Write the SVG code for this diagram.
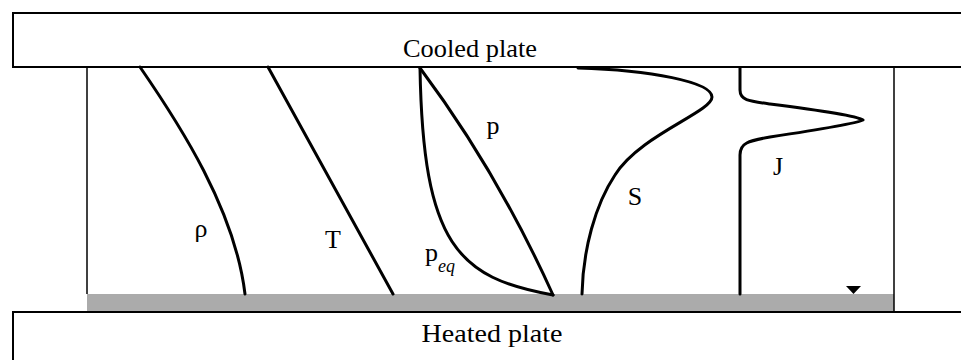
<svg xmlns="http://www.w3.org/2000/svg" width="961" height="360" viewBox="0 0 961 360">
<style>
.plate{fill:#fff;stroke:#000;stroke-width:2}
.wall{fill:none;stroke:#000;stroke-width:1.5}
.curve{fill:none;stroke:#000;stroke-width:3;stroke-linecap:round;stroke-linejoin:round}
.lbl{font-family:"Liberation Serif","Times New Roman",serif;font-size:26px;fill:#000}
</style>
<rect width="961" height="360" fill="#fff"/>
<g id="cooled-plate">
<path class="plate" d="M965,13 L13,13 L13,67 L965,67"/>
<text class="lbl" x="470" y="57" text-anchor="middle" textLength="134" lengthAdjust="spacingAndGlyphs">Cooled plate</text>
</g>
<g id="cell">
<rect x="87" y="294" width="807" height="17" fill="#ababab"/>
<line class="wall" x1="87" y1="67" x2="87" y2="294"/>
<line class="wall" x1="894" y1="67" x2="894" y2="311"/>
<polygon points="846,286 861,286 853.5,294" fill="#000"/>
</g>
<g id="heated-plate">
<path class="plate" d="M965,312 L13,312 L13,365"/>
<text class="lbl" x="492" y="342" text-anchor="middle" textLength="141" lengthAdjust="spacingAndGlyphs">Heated plate</text>
</g>
<g id="connectors">
<path id="rho" class="curve" d="M140,67 C180,125 235,210 245,294"/>
<path id="T" class="curve" d="M268,67 L393,294"/>
<path id="p" class="curve" d="M420,68 Q497,171 553,295"/>
<path id="peq" class="curve" d="M420,68 C423,245 458,278 553,295"/>
<path id="S" class="curve" d="M578,68 C650,70 712,82 712,97 C712,112 640,135 615,175 C595,205 583,250 582,294"/>
<path id="J" class="curve" d="M740,68 L740,90 C740,100 748,101 770,104 C810,109 855,115 863,120 C855,124 810,131 770,137 C748,141 740,143 740,155 L740,294"/>
</g>
<g id="labels">
<text class="lbl" x="201" y="237" text-anchor="middle">ρ</text>
<text class="lbl" x="333" y="248" text-anchor="middle">T</text>
<text class="lbl" x="493" y="134" text-anchor="middle">p</text>
<text class="lbl" x="425" y="261">p<tspan font-size="18" font-style="italic" dy="11">eq</tspan></text>
<text class="lbl" x="635" y="205" text-anchor="middle">S</text>
<text class="lbl" x="778" y="175" text-anchor="middle">J</text>
</g>
</svg>
